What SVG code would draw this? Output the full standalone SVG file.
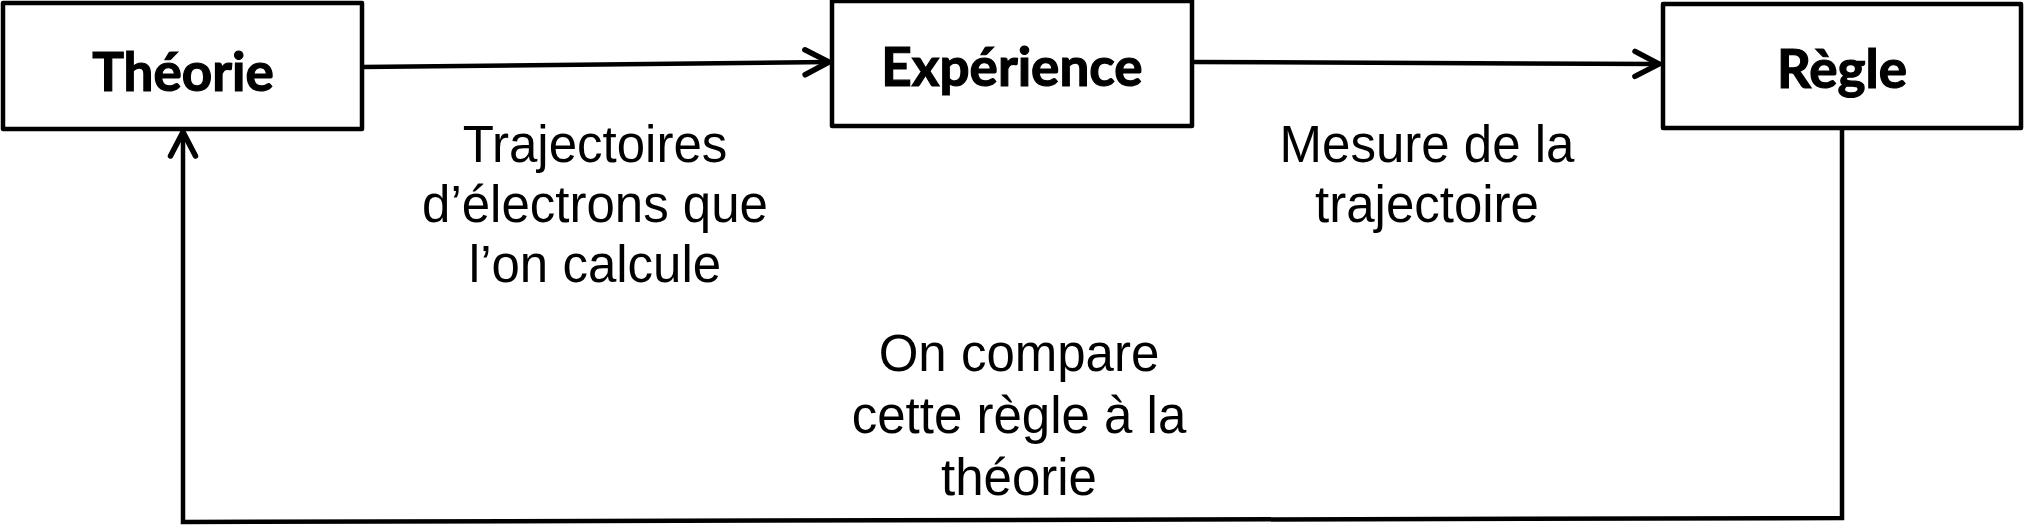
<svg xmlns="http://www.w3.org/2000/svg" width="2028" height="528" viewBox="0 0 2028 528">
<style>
.box{fill:#fff;stroke:#000;stroke-width:4.5;stroke-linejoin:round}
.title{font-family:Lato,"Open Sans","Liberation Sans",sans-serif;font-weight:bold;font-size:53px;fill:#000;stroke:#000;stroke-width:1.2;text-anchor:middle}
.lbl{font-family:"Liberation Sans",Arial,sans-serif;font-size:51px;fill:#000;text-anchor:middle}
.conn{fill:none;stroke:#000;stroke-width:4.5;stroke-linejoin:miter}
</style>
<defs>
<marker id="arr" markerUnits="userSpaceOnUse" viewBox="-30 -16 34 32" refX="0" refY="0" markerWidth="34" markerHeight="32" orient="auto" overflow="visible">
<path d="M-24,-12.5 L0,0 L-24,12.5" fill="none" stroke="#000" stroke-width="5.5" stroke-linecap="round" stroke-linejoin="miter"/>
</marker>
</defs>
<rect width="2028" height="528" fill="#fff"/>
<g id="connectors">
<path class="conn" d="M362,67 L829,62" marker-end="url(#arr)"/>
<path class="conn" d="M1192,62 L1659,64" marker-end="url(#arr)"/>
<path class="conn" d="M1842,128 L1842,518 L183,522 L183,132" marker-end="url(#arr)"/>
</g>
<g id="theorie">
<rect class="box" x="3" y="3" width="359" height="126"/>
<text class="title" x="183" y="91">Théorie</text>
</g>
<g id="experience">
<rect class="box" x="832" y="1" width="360" height="125"/>
<text class="title" x="1012" y="86">Expérience</text>
</g>
<g id="regle">
<rect class="box" x="1663" y="4" width="358" height="124"/>
<text class="title" x="1842" y="88">Règle</text>
</g>
<g id="label-trajectoires">
<text class="lbl" x="595" y="162">Trajectoires</text>
<text class="lbl" x="595" y="222">d’électrons que</text>
<text class="lbl" x="595" y="282">l’on calcule</text>
</g>
<g id="label-mesure">
<text class="lbl" x="1427" y="162">Mesure de la</text>
<text class="lbl" x="1427" y="222">trajectoire</text>
</g>
<g id="label-compare">
<text class="lbl" x="1019" y="371">On compare</text>
<text class="lbl" x="1019" y="433">cette règle à la</text>
<text class="lbl" x="1019" y="495">théorie</text>
</g>
</svg>
